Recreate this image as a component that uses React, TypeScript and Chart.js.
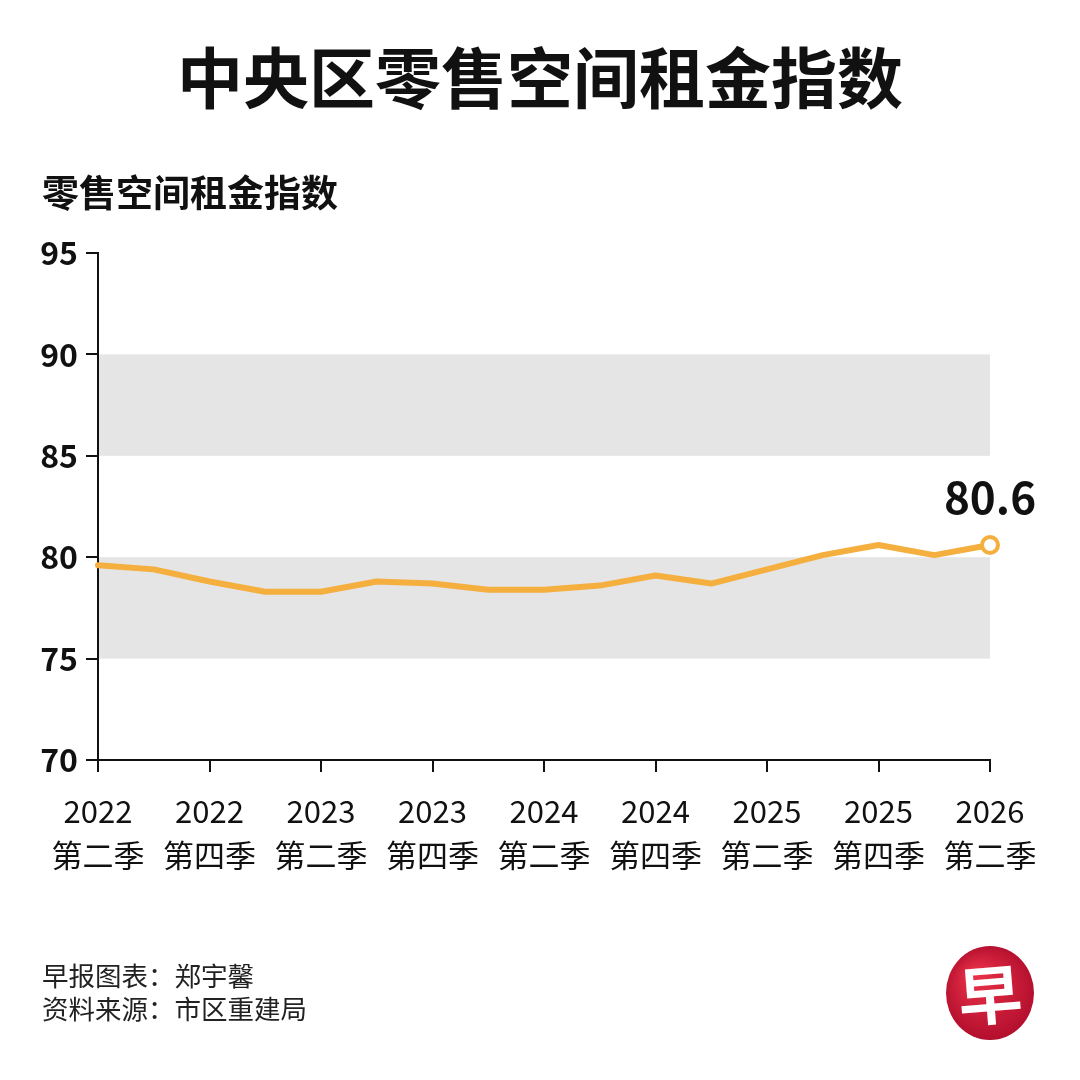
import React, { useEffect, useRef } from "react";
import { Chart, registerables } from "chart.js";

Chart.register(...registerables);

const title = "中央区零售空间租金指数";
const subtitle = "零售空间租金指数";
const footerLines = ["早报图表：郑宇馨", "资料来源：市区重建局"];
const logoChar = "早";

const categories = [
  "2022Q2", "2022Q3", "2022Q4", "2023Q1", "2023Q2", "2023Q3", "2023Q4", "2024Q1",
  "2024Q2", "2024Q3", "2024Q4", "2025Q1", "2025Q2", "2025Q3", "2025Q4", "2026Q1", "2026Q2",
];
const values = [79.6, 79.4, 78.8, 78.3, 78.3, 78.8, 78.7, 78.4, 78.4, 78.6, 79.1, 78.7, 79.4, 80.1, 80.6, 80.1, 80.6];
const tickYears = ["2022", "", "2022", "", "2023", "", "2023", "", "2024", "", "2024", "", "2025", "", "2025", "", "2026"];
const tickQuarters = ["第二季", "", "第四季", "", "第二季", "", "第四季", "", "第二季", "", "第四季", "", "第二季", "", "第四季", "", "第二季"];
const bands = [[75, 80], [85, 90]];
const yMin = 70;
const yMax = 95;
const yStep = 5;

const FONT = "'Noto Sans CJK SC', 'Noto Sans', sans-serif";
const ORANGE = "#F4AF3F";

export default function App() {
  const ref = useRef<HTMLCanvasElement | null>(null);

  useEffect(() => {
    document.body.style.margin = "0";
    const canvas = ref.current;
    if (!canvas) return;

    const decor = {
      id: "decor",
      beforeDraw(chart: any) {
        const { ctx } = chart;
        const xs = chart.scales.x;
        const ys = chart.scales.y;
        ctx.save();
        ctx.fillStyle = "#ffffff";
        ctx.fillRect(0, 0, chart.width, chart.height);
        ctx.fillStyle = "#e5e5e5";
        bands.forEach(([a, b]) => {
          const y1 = ys.getPixelForValue(b);
          const y2 = ys.getPixelForValue(a);
          ctx.fillRect(xs.left, y1, xs.right - xs.left, y2 - y1);
        });
        ctx.restore();
      },
      afterDatasetsDraw(chart: any) {
        const { ctx } = chart;
        const meta = chart.getDatasetMeta(0);
        const last = meta.data[meta.data.length - 1];
        ctx.save();
        ctx.fillStyle = "#111";
        ctx.font = `bold 44px ${FONT}`;
        ctx.textAlign = "center";
        ctx.textBaseline = "middle";
        ctx.fillText(values[values.length - 1].toFixed(1), last.x, last.y - 48);
        ctx.restore();
      },
      afterDraw(chart: any) {
        const { ctx } = chart;
        ctx.save();
        ctx.fillStyle = "#111";
        ctx.textBaseline = "middle";
        ctx.textAlign = "center";
        ctx.font = `bold 66px ${FONT}`;
        ctx.fillText(title, 540, 78);
        ctx.textAlign = "left";
        ctx.font = `bold 37px ${FONT}`;
        ctx.fillText(subtitle, 42, 193);
        ctx.font = `26.5px ${FONT}`;
        ctx.fillStyle = "#222";
        footerLines.forEach((t, i) => ctx.fillText(t, 42, 976 + i * 33));
        // logo
        const cx = 990, cy = 993;
        const g = ctx.createRadialGradient(cx - 15, cy - 18, 5, cx, cy, 50);
        g.addColorStop(0, "#e83048");
        g.addColorStop(1, "#b00d2c");
        ctx.fillStyle = g;
        ctx.beginPath();
        ctx.ellipse(cx, cy, 44, 47, 0, 0, Math.PI * 2);
        ctx.fill();
        ctx.fillStyle = "#ffffff";
        ctx.textAlign = "center";
        ctx.font = `bold 64px ${FONT}`;
        ctx.translate(cx, cy + 2);
        ctx.rotate(-0.08);
        ctx.fillText(logoChar, 0, 0);
        ctx.restore();
      },
    };

    const chart = new Chart(canvas, {
      type: "line",
      data: {
        labels: categories,
        datasets: [
          {
            data: values,
            borderColor: ORANGE,
            borderWidth: 6,
            borderJoinStyle: "round",
            borderCapStyle: "round",
            tension: 0,
            pointRadius: (c: any) => (c.dataIndex === values.length - 1 ? 8 : 0),
            pointHoverRadius: 0,
            pointBackgroundColor: "#ffffff",
            pointBorderColor: ORANGE,
            pointBorderWidth: 4,
            clip: false as any,
          },
        ],
      },
      options: {
        animation: false,
        responsive: false,
        events: [],
        layout: { padding: { top: 253, left: 0, right: 90, bottom: 0 } },
        plugins: { legend: { display: false }, tooltip: { enabled: false } },
        scales: {
          x: {
            type: "category",
            offset: false,
            afterFit: (s: any) => {
              s.height = 320;
            },
            border: { display: true, color: "#111", width: 2 },
            grid: {
              drawOnChartArea: false,
              drawTicks: true,
              tickLength: 12,
              lineWidth: 2,
              tickColor: (c: any) => (c.index % 2 === 0 ? "#111" : "rgba(0,0,0,0)"),
              offset: false,
            },
            ticks: {
              autoSkip: false,
              maxRotation: 0,
              minRotation: 0,
              padding: 18,
              color: "#111",
              font: { family: FONT, size: 31, lineHeight: 1.4 },
              callback: (_v: any, i: number) => (tickYears[i] ? [tickYears[i], tickQuarters[i]] : ""),
            },
          },
          y: {
            min: yMin,
            max: yMax,
            afterFit: (s: any) => {
              s.width = 98;
            },
            border: { display: true, color: "#111", width: 2 },
            grid: {
              drawOnChartArea: false,
              drawTicks: true,
              tickLength: 12,
              lineWidth: 2,
              tickColor: "#111",
            },
            ticks: {
              stepSize: yStep,
              padding: 8,
              color: "#111",
              font: { family: FONT, size: 32, weight: "bold" },
            },
          },
        },
      } as any,
      plugins: [decor],
    });

    return () => chart.destroy();
  }, []);

  return (
    <div style={{ width: 1080, height: 1080, position: "relative", background: "#fff" }}>
      <canvas ref={ref} width={1080} height={1080} style={{ width: 1080, height: 1080, display: "block" }} />
    </div>
  );
}
